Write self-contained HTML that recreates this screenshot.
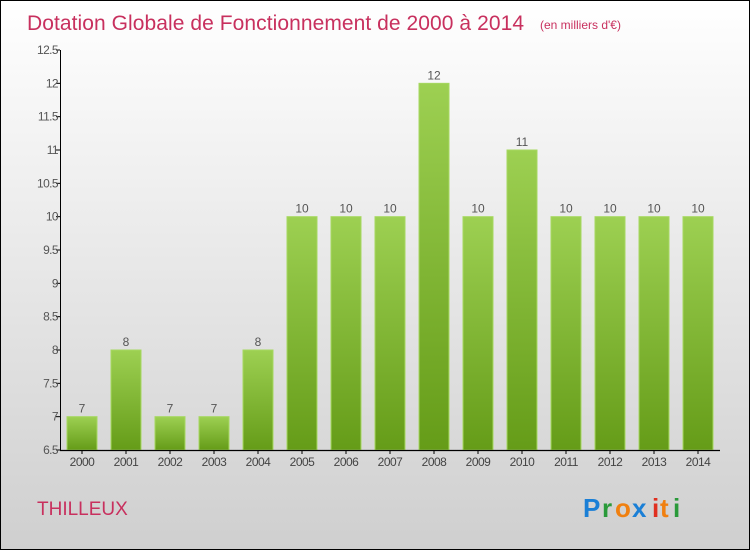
<!DOCTYPE html>
<html><head><meta charset="utf-8"><style>
body{margin:0}
#wrap{position:relative;width:748px;height:548px;border:1px solid #000;background:linear-gradient(#ffffff,#cfcfcf);font-family:"Liberation Sans",sans-serif;overflow:hidden}
</style></head><body>
<div id="wrap">
<svg id="svg" width="748" height="548" style="position:absolute;left:0;top:0">
<defs><linearGradient id="g" x1="0" y1="0" x2="0" y2="1"><stop offset="0" stop-color="#9dd052"/><stop offset="1" stop-color="#659c18"/></linearGradient></defs>
<text x="26" y="29" font-size="21" fill="#c8305e" textLength="497">Dotation Globale de Fonctionnement de 2000 à 2014</text>
<text x="539" y="28" font-size="12" fill="#c8305e">(en milliers d'€)</text>
<text x="36" y="514" font-size="19" fill="#c8305e">THILLEUX</text>
<g font-size="26" font-weight="bold">
<text x="582" y="516" fill="#1a7fd6">P</text><text x="601" y="516" fill="#2a9a3a">r</text><text x="614" y="516" fill="#f08010">o</text><text x="631" y="516" fill="#1a7fd6">x</text><text x="651" y="516" fill="#e03020">i</text><text x="659" y="516" fill="#f08010">t</text><text x="672" y="516" fill="#2a9a3a">i</text>
</g>
</svg>
</div>
<script>
const years=["2000","2001","2002","2003","2004","2005","2006","2007","2008","2009","2010","2011","2012","2013","2014"];
const values=[7,8,7,7,8,10,10,10,12,10,11,10,10,10,10];
const ticks=[6.5,7,7.5,8,8.5,9,9.5,10,10.5,11,11.5,12,12.5];
const svg=document.getElementById('svg');const NS="http://www.w3.org/2000/svg";
const x0=59,step=44,yb=449,yt=49,vmin=6.5,vmax=12.5;
const y=v=>yb-(v-vmin)/(vmax-vmin)*(yb-yt);
function el(t,a,txt){const e=document.createElementNS(NS,t);for(const k in a)e.setAttribute(k,a[k]);if(txt!==undefined)e.textContent=txt;svg.appendChild(e);return e;}
ticks.forEach(t=>{
const l=el('line',{x1:x0-4,x2:x0,y1:y(t),y2:y(t),stroke:'#000'});


const tx=el('text',{x:x0-2,y:y(t)+4,'text-anchor':'end','font-size':12,fill:'#555','letter-spacing':'-0.6'},String(t));


});
years.forEach((yr,i)=>{
const cx=x0+step*i+step/2;const v=values[i];
const r=el('rect',{x:cx-15,y:y(v),width:30,height:yb-y(v),fill:'url(#g)',stroke:'#a6d860','stroke-width':1});


const vt=el('text',{x:cx,y:y(v)-4,'text-anchor':'middle','font-size':12,fill:'#555'},String(v));


const tk=el('line',{x1:cx,x2:cx,y1:yb,y2:yb+4,stroke:'#000'});


const xl=el('text',{x:cx,y:yb+16,'text-anchor':'middle','font-size':12,fill:'#444','letter-spacing':'-0.5'},yr);


});
const ya=el('line',{x1:x0+0.5,x2:x0+0.5,y1:yt,y2:yb,stroke:'#000'});


const xa=el('line',{x1:x0,x2:x0+step*15,y1:yb+0.5,y2:yb+0.5,stroke:'#000','stroke-width':1.2});


</script>
</body></html>
